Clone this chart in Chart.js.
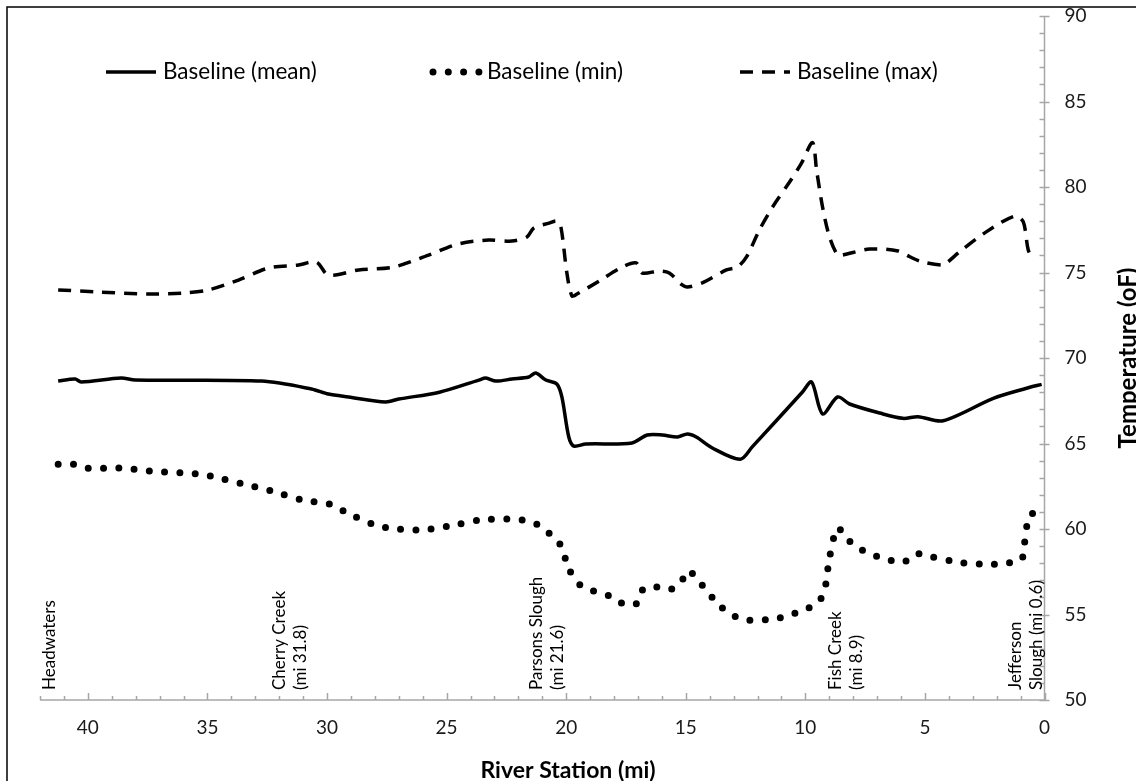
<!DOCTYPE html>
<html>
<head>
<meta charset="utf-8">
<title>River Temperature Profile</title>
<script src="https://cdn.jsdelivr.net/npm/chart.js@4.4.1/dist/chart.umd.min.js"></script>
<style>
  html, body { margin: 0; padding: 0; background: #fff; overflow: hidden; }
  #wrap { position: relative; width: 1136px; height: 781px; }
</style>
</head>
<body>
<div id="wrap"><canvas id="profileChart"></canvas></div>
<script>
// Baseline (mean) - river station (mi) / temperature (oF)
const meanMiles = [41.24, 40.53, 40.28, 38.61, 38.02, 32.74, 30.65, 29.94, 29.1, 27.55, 27.0, 25.3,
  23.65, 23.36, 22.94, 22.27, 21.56, 21.27, 20.85, 20.39, 20.18, 19.89, 19.68, 19.18, 17.25,
  16.61, 15.98, 15.35, 14.93, 14.56, 13.89, 12.72, 12.22, 10.12, 9.74, 9.28, 8.65, 8.15, 6.89,
  5.92, 5.29, 4.24, 2.14, 0.75, 0.12];
const meanTemps = [68.65, 68.77, 68.6, 68.83, 68.71, 68.65, 68.19, 67.89, 67.72, 67.43, 67.6, 68.0,
  68.71, 68.83, 68.65, 68.77, 68.89, 69.12, 68.71, 68.48, 67.72, 65.38, 64.85, 64.97, 65.03,
  65.5, 65.5, 65.38, 65.56, 65.38, 64.74, 64.08, 64.8, 68.01, 68.6, 66.73, 67.72, 67.31, 66.78,
  66.47, 66.57, 66.33, 67.64, 68.23, 68.46];

// Baseline (min)
const minMiles = [41.24, 40.59, 39.99, 38.69, 37.39, 36.1, 35.46, 34.83, 33.55, 32.29, 31.05, 29.82,
  29.23, 28.06, 27.45, 26.16, 24.86, 23.6, 22.32, 21.71, 21.1, 20.62, 20.2, 19.9, 19.37, 18.16,
  17.59, 17.06, 16.79, 16.3, 15.69, 15.23, 14.9, 14.46, 13.62, 13.12, 12.52, 11.25, 10.62, 10.0,
  9.45, 9.18, 8.99, 8.65, 8.26, 7.76, 7.17, 6.54, 5.93, 5.37, 4.75, 3.49, 2.19, 1.56, 0.97,
  0.85, 0.59, 0.05];
const minTemps = [63.78, 63.78, 63.55, 63.57, 63.39, 63.29, 63.23, 63.08, 62.65, 62.22, 61.7, 61.44,
  61.0, 60.27, 60.06, 59.94, 60.18, 60.53, 60.58, 60.49, 60.19, 59.63, 58.99, 57.7, 56.68, 56.07,
  55.61, 55.63, 56.47, 56.63, 56.45, 56.82, 57.56, 56.96, 55.57, 55.03, 54.68, 54.75, 54.99, 55.3,
  55.73, 56.53, 58.32, 60.06, 59.42, 58.87, 58.48, 58.21, 58.03, 58.54, 58.38, 58.03, 57.94, 58.01, 58.19,
  59.06, 60.86, 60.72];

// Baseline (max)
const maxMiles = [41.24, 39.57, 37.47, 36.0, 34.96, 33.7, 32.45, 31.19, 30.44, 29.94, 28.68, 27.22,
  25.75, 24.5, 23.24, 22.27, 21.64, 21.35, 20.72, 20.39, 20.22, 19.97, 19.76, 19.55, 18.62, 17.66,
  17.07, 16.82, 16.11, 15.69, 15.15, 14.94, 14.31, 13.3, 12.84, 12.46, 11.92, 11.37, 10.66, 10.16,
  9.7, 9.53, 9.28, 8.99, 8.65, 8.44, 7.31, 6.12, 5.63, 5.14, 4.24, 4.03, 3.54, 2.42, 1.24, 0.89,
  0.68, 0.47];
const maxTemps = [73.98, 73.86, 73.74, 73.8, 73.98, 74.56, 75.26, 75.44, 75.61, 74.85, 75.15, 75.32,
  76.02, 76.67, 76.9, 76.84, 77.08, 77.6, 77.89, 78.01, 77.66, 74.97, 73.63, 73.74, 74.5, 75.32,
  75.56, 74.97, 75.09, 74.97, 74.27, 74.15, 74.39, 75.15, 75.32, 75.91, 77.49, 78.83, 80.29, 81.4,
  82.6, 80.99, 78.83, 77.08, 76.02, 76.02, 76.37, 76.26, 75.92, 75.63, 75.44, 75.63, 76.22, 77.39, 78.3, 77.97,
  76.32, 75.77];

const seriesNames = ["Baseline (mean)", "Baseline (min)", "Baseline (max)"];

// Axis ticks
const xTickValues = [0, 5, 10, 15, 20, 25, 30, 35, 40];
const yTickValues = [50, 55, 60, 65, 70, 75, 80, 85, 90];

// Landmarks written along the bottom of the plot
const siteLabels = [["Headwaters"], ["Cherry Creek", "(mi 31.8)"], ["Parsons Slough", "(mi 21.6)"],
  ["Fish Creek", "(mi 8.9)"], ["Jefferson", "Slough (mi 0.6)"]];
const siteLabelMiles = [41.6, 31.55, 20.8, 8.3, 0.78];

const toPoints = (xs, ys) => xs.map((x, i) => ({ x: x, y: ys[i] }));

const FONT = "Lato, 'Open Sans', sans-serif";
Chart.defaults.font.family = FONT;
Chart.defaults.color = "#1a1a1a";

// frame, axis lines and tick marks
const framePlugin = {
  id: "frame",
  beforeDraw(chart) {
    const ctx = chart.ctx;
    ctx.save();
    ctx.strokeStyle = "#000";
    ctx.lineWidth = 1.5;
    ctx.strokeRect(7, 7, 2000, 2000);
    ctx.restore();
  },
  afterDatasetsDraw(chart) {
    const { ctx, chartArea: a, scales: { x, y } } = chart;
    ctx.save();
    ctx.strokeStyle = "#a6a6a6";
    ctx.lineWidth = 1.5;
    ctx.beginPath();
    ctx.moveTo(a.left, a.bottom);
    ctx.lineTo(a.right, a.bottom);
    ctx.moveTo(a.right, a.top);
    ctx.lineTo(a.right, a.bottom);
    for (let m = 0; m <= x.max; m++) {
      const px = Math.round(x.getPixelForValue(m)) + 0.5;
      ctx.moveTo(px, a.bottom);
      ctx.lineTo(px, a.bottom - (m % 5 === 0 ? 7 : 4));
    }
    for (let t = y.min; t <= y.max; t++) {
      const py = Math.round(y.getPixelForValue(t)) + 0.5;
      const major = t % 5 === 0;
      ctx.moveTo(a.right - 5, py);
      ctx.lineTo(a.right + (major ? 5 : 0), py);
    }
    ctx.stroke();
    ctx.restore();
  },
  afterDraw(chart) {
    const { ctx, chartArea: a, scales: { x } } = chart;
    ctx.save();
    ctx.fillStyle = "#000";

    // legend inside the plot
    const starts = [106, 430, 740];
    chart.data.datasets.forEach((ds, i) => {
      const sx = starts[i];
      ctx.save();
      ctx.strokeStyle = ds.borderColor;
      ctx.lineWidth = ds.borderWidth;
      ctx.lineCap = ds.borderCapStyle || "butt";
      ctx.setLineDash(ds.borderDash || []);
      ctx.beginPath();
      ctx.moveTo(sx + (i === 1 ? 3 : 0), 72);
      ctx.lineTo(sx + 50, 72);
      ctx.stroke();
      ctx.restore();
      ctx.font = "22.5px " + FONT;
      ctx.textBaseline = "middle";
      ctx.textAlign = "left";
      ctx.fillText(ds.label, sx + 57, 72);
    });

    // landmark notes, rotated to read upward
    ctx.font = "17px " + FONT;
    ctx.textAlign = "left";
    ctx.textBaseline = "middle";
    siteLabels.forEach((lines, i) => {
      const cx = x.getPixelForValue(siteLabelMiles[i]);
      const lineGap = 21;
      lines.forEach((txt, j) => {
        const lx = cx + (j - (lines.length - 1) / 2) * lineGap;
        ctx.save();
        ctx.translate(lx, a.bottom - 10);
        ctx.rotate(-Math.PI / 2);
        ctx.fillText(txt, 0, 0);
        ctx.restore();
      });
    });

    // axis titles
    ctx.font = "bold 23px " + FONT;
    ctx.textAlign = "center";
    ctx.textBaseline = "middle";
    ctx.fillText("River Station (mi)", chart.width / 2, 771);
    ctx.font = "bold 24px " + FONT;
    ctx.save();
    ctx.translate(1128, (a.top + a.bottom) / 2);
    ctx.rotate(-Math.PI / 2);
    ctx.fillText("Temperature (oF)", 0, 0);
    ctx.restore();
    ctx.restore();
  }
};

new Chart(document.getElementById("profileChart"), {
  type: "line",
  data: {
    datasets: [
      {
        label: seriesNames[0],
        data: toPoints(meanMiles, meanTemps),
        borderColor: "#000",
        borderWidth: 3.5,
        tension: 0.3,
        pointRadius: 0
      },
      {
        label: seriesNames[1],
        data: toPoints(minMiles, minTemps),
        borderColor: "#000",
        borderWidth: 7,
        borderDash: [0, 15.3],
        borderCapStyle: "round",
        tension: 0.3,
        pointRadius: 0
      },
      {
        label: seriesNames[2],
        data: toPoints(maxMiles, maxTemps),
        borderColor: "#000",
        borderWidth: 3.5,
        borderDash: [13, 9],
        tension: 0.3,
        pointRadius: 0
      }
    ]
  },
  options: {
    responsive: true,
    maintainAspectRatio: false,
    animation: false,
    layout: { padding: { left: 40, top: 16, right: 0, bottom: 0 } },
    plugins: {
      legend: { display: false },
      tooltip: { enabled: false }
    },
    scales: {
      x: {
        type: "linear",
        reverse: true,
        min: 0,
        max: 42,
        afterBuildTicks: (scale) => { scale.ticks = xTickValues.map((v) => ({ value: v })); },
        afterFit: (scale) => { scale.height = 81; },
        grid: { display: false, drawTicks: false },
        border: { display: false },
        ticks: { padding: 16, font: { size: 19 }, maxRotation: 0 }
      },
      y: {
        position: "right",
        min: 50,
        max: 90,
        afterBuildTicks: (scale) => { scale.ticks = yTickValues.map((v) => ({ value: v })); },
        afterFit: (scale) => { scale.width = 91.5; },
        // tick length only offsets the labels; the marks are drawn by the frame plugin
        grid: { display: false, drawTicks: true, tickLength: 20 },
        border: { display: false },
        ticks: { padding: 0, font: { size: 19 } }
      }
    }
  },
  plugins: [framePlugin]
});
</script>
</body>
</html>
